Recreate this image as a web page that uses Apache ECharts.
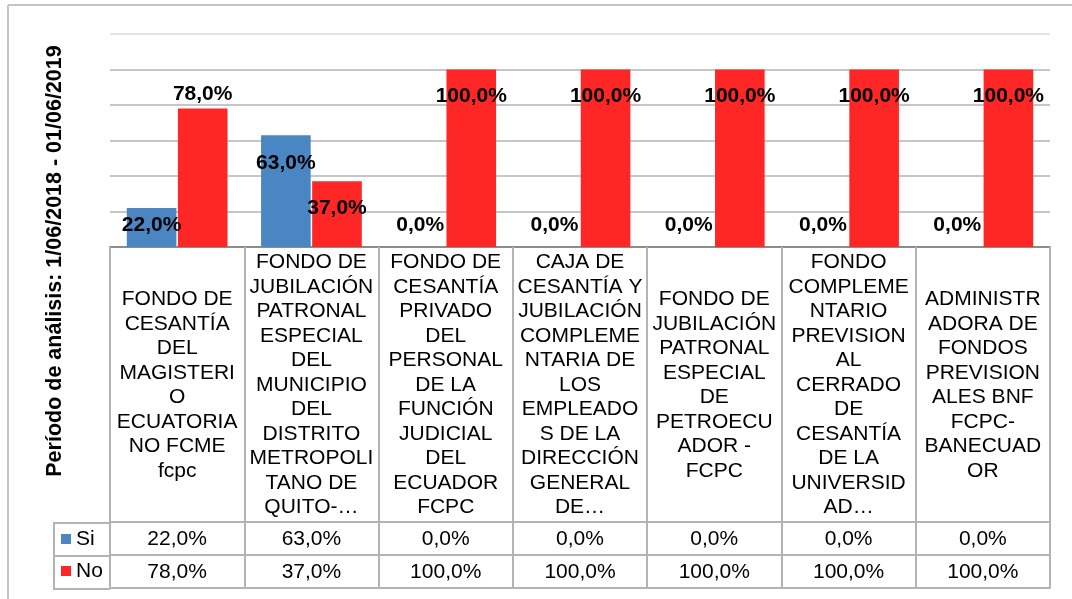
<!DOCTYPE html>
<html>
<head>
<meta charset="utf-8">
<script src="https://cdn.jsdelivr.net/npm/echarts@6/dist/echarts.min.js"></script>
<style>
  html, body { margin: 0; padding: 0; background: #fff; }
  #chart { width: 1072px; height: 599px; }
</style>
</head>
<body>
<div id="chart"></div>
<script>
// categorias (texto tal cual aparece, ya cortado en lineas)
var categories = [
  "FONDO DE\nCESANTÍA\nDEL\nMAGISTERI\nO\nECUATORIA\nNO FCME\nfcpc",
  "FONDO DE\nJUBILACIÓN\nPATRONAL\nESPECIAL\nDEL\nMUNICIPIO\nDEL\nDISTRITO\nMETROPOLI\nTANO DE\nQUITO-…",
  "FONDO DE\nCESANTÍA\nPRIVADO\nDEL\nPERSONAL\nDE LA\nFUNCIÓN\nJUDICIAL\nDEL\nECUADOR\nFCPC",
  "CAJA DE\nCESANTÍA Y\nJUBILACIÓN\nCOMPLEME\nNTARIA DE\nLOS\nEMPLEADO\nS DE LA\nDIRECCIÓN\nGENERAL\nDE…",
  "FONDO DE\nJUBILACIÓN\nPATRONAL\nESPECIAL\nDE\nPETROECU\nADOR -\nFCPC",
  "FONDO\nCOMPLEME\nNTARIO\nPREVISION\nAL\nCERRADO\nDE\nCESANTÍA\nDE LA\nUNIVERSID\nAD…",
  "ADMINISTR\nADORA DE\nFONDOS\nPREVISION\nALES BNF\nFCPC-\nBANECUAD\nOR"
];
var siValues = [22, 63, 0, 0, 0, 0, 0];
var noValues = [78, 37, 100, 100, 100, 100, 100];
var seriesNames = ["Si", "No"];
var periodTitle = "Período de análisis: 1/06/2018 - 01/06/2019";

var FONT = "Liberation Sans, Arial, sans-serif";

function pct(v) {
  return v.toFixed(1).replace(".", ",") + "%";
}

// ajustes de etiquetas por barra (solo estilo)
var siLabelFix = { 1: { position: "insideTop", distance: 18 } };
var noLabelFix = { 0: { position: "top", distance: 4 } };

function buildData(vals, fix) {
  return vals.map(function (v, i) {
    if (fix[i]) return { value: v, label: fix[i] };
    return v;
  });
}

var tableLine = { color: "#b3b3b3", width: 2 };

var chart = echarts.init(document.getElementById("chart"));
chart.setOption({
  animation: false,
  textStyle: { fontFamily: FONT },
  grid: { left: 110, right: 22, top: 34, bottom: 352 },
  legend: {
    data: seriesNames,
    orient: "vertical",
    left: 61,
    top: 527,
    padding: 0,
    itemWidth: 10,
    itemHeight: 10,
    itemGap: 8,
    icon: "rect",
    textStyle: { fontSize: 21, lineHeight: 24, color: "#000", fontFamily: FONT }
  },
  xAxis: [
    {
      type: "category",
      data: categories,
      position: "bottom",
      axisLine: { lineStyle: { color: "#8c8c8c", width: 2 } },
      axisTick: { show: true, interval: 0, length: 341, lineStyle: tableLine },
      axisLabel: {
        interval: 0,
        margin: 138,
        verticalAlign: "middle",
        fontSize: 21,
        lineHeight: 24.5,
        color: "#000",
        fontFamily: FONT
      }
    },
    {
      type: "category",
      data: categories,
      position: "bottom",
      offset: 275,
      axisLine: { lineStyle: tableLine },
      axisTick: { show: false },
      axisLabel: {
        interval: 0,
        margin: 17,
        verticalAlign: "middle",
        fontSize: 21,
        color: "#000",
        fontFamily: FONT,
        formatter: function (v, i) { return pct(siValues[i]); }
      }
    },
    {
      type: "category",
      data: categories,
      position: "bottom",
      offset: 308,
      axisLine: { lineStyle: tableLine },
      axisTick: { show: false },
      axisLabel: {
        interval: 0,
        margin: 17,
        verticalAlign: "middle",
        fontSize: 21,
        color: "#000",
        fontFamily: FONT,
        formatter: function (v, i) { return pct(noValues[i]); }
      }
    },
    {
      type: "category",
      data: categories,
      position: "bottom",
      offset: 341,
      axisLine: { lineStyle: tableLine },
      axisTick: { show: false },
      axisLabel: { show: false }
    }
  ],
  yAxis: {
    type: "value",
    min: 0,
    max: 120,
    interval: 20,
    axisLine: { show: false },
    axisTick: { show: false },
    axisLabel: { show: false },
    splitLine: {
      lineStyle: {
        color: ["#c6c6c6", "#c6c6c6", "#c6c6c6", "#c6c6c6", "#c6c6c6", "#c6c6c6", "#e4e4e4"],
        width: 2
      }
    }
  },
  series: [
    {
      name: seriesNames[0],
      type: "bar",
      data: buildData(siValues, siLabelFix),
      barCategoryGap: "25%",
      barGap: "3%",
      itemStyle: { color: "#4a86c1" },
      label: {
        show: true,
        position: "insideBottom",
        distance: 11,
        color: "#000",
        fontSize: 21,
        fontWeight: "bold",
        fontFamily: FONT,
        formatter: function (p) { return pct(p.value); }
      }
    },
    {
      name: seriesNames[1],
      type: "bar",
      data: buildData(noValues, noLabelFix),
      barCategoryGap: "25%",
      barGap: "3%",
      itemStyle: { color: "#ff2626" },
      label: {
        show: true,
        position: "insideTop",
        distance: 16,
        color: "#000",
        fontSize: 21,
        fontWeight: "bold",
        fontFamily: FONT,
        formatter: function (p) { return pct(p.value); }
      }
    }
  ],
  graphic: [
    // borde del area del grafico
    { type: "line", shape: { x1: 8, y1: 5, x2: 1072, y2: 5 }, style: { stroke: "#c4c4c4", lineWidth: 2 } },
    { type: "line", shape: { x1: 8, y1: 5, x2: 8, y2: 599 }, style: { stroke: "#c4c4c4", lineWidth: 2 } },
    // columna de leyenda de la tabla
    { type: "line", shape: { x1: 54, y1: 523, x2: 110, y2: 523 }, style: { stroke: "#b3b3b3", lineWidth: 2 } },
    { type: "line", shape: { x1: 54, y1: 556, x2: 110, y2: 556 }, style: { stroke: "#b3b3b3", lineWidth: 2 } },
    { type: "line", shape: { x1: 54, y1: 589, x2: 110, y2: 589 }, style: { stroke: "#b3b3b3", lineWidth: 2 } },
    { type: "line", shape: { x1: 54, y1: 522, x2: 54, y2: 590 }, style: { stroke: "#b3b3b3", lineWidth: 2 } },
    {
      type: "text",
      x: 55,
      y: 261,
      rotation: Math.PI / 2,
      style: {
        text: periodTitle,
        fill: "#000",
        font: "bold 21.5px " + FONT,
        textAlign: "center",
        textVerticalAlign: "middle",
        align: "center",
        verticalAlign: "middle"
      }
    }
  ]
});
</script>
</body>
</html>
